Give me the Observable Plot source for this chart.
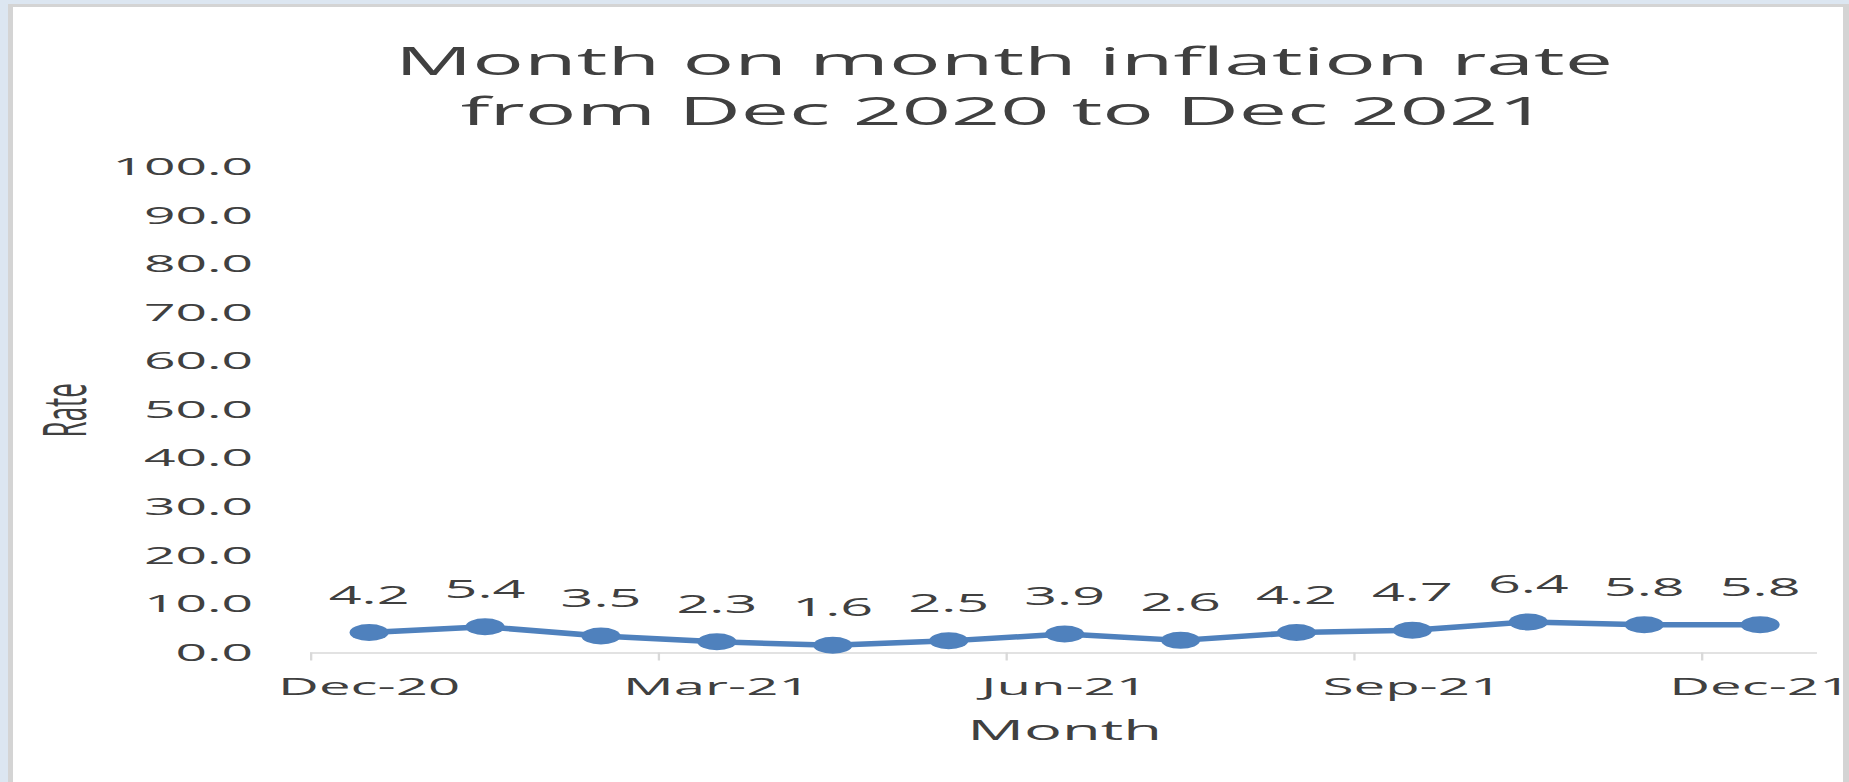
<!DOCTYPE html>
<html>
<head>
<meta charset="utf-8">
<script src="https://cdn.jsdelivr.net/npm/d3@7"></script>
<script src="https://cdn.jsdelivr.net/npm/@observablehq/plot@0.6"></script>
<style>
  html, body { margin: 0; padding: 0; }
  body { width: 1849px; height: 782px; background: #dce6f1; position: relative; overflow: hidden; font-family: "Open Sans", sans-serif; }
  #frame { position: absolute; left: 8px; top: 4px; width: 1841px; height: 778px; background: #d4d4d4; }
  #inner { position: absolute; left: 13px; top: 7px; width: 1830px; height: 775px; background: #ffffff; }
  #chart { position: absolute; left: 0; top: 0; height: 782px; transform-origin: 0 0; }
  #title { position: absolute; left: 0; text-align: center; color: #404040; font-family: "Open Sans", sans-serif; white-space: nowrap; }
  #plot { position: absolute; left: 0; }
</style>
</head>
<body>
<div id="frame"></div>
<div id="inner"></div>
<div id="chart">
  <div id="title">Month on month inflation rate<br>from Dec 2020 to Dec 2021</div>
  <div id="plot"></div>
</div>
<script>
// ---- data ----
const months = ["Dec-20","Jan-21","Feb-21","Mar-21","Apr-21","May-21","Jun-21","Jul-21","Aug-21","Sep-21","Oct-21","Nov-21","Dec-21"];
const rates = [4.2, 5.4, 3.5, 2.3, 1.6, 2.5, 3.9, 2.6, 4.2, 4.7, 6.4, 5.8, 5.8];
const yTicks = [0, 10, 20, 30, 40, 50, 60, 70, 80, 90, 100];
const labelIndex = [0, 3, 6, 9, 12];
const tickBoundaries = [-0.5, 2.5, 5.5, 8.5, 11.5];

const data = months.map((m, i) => ({i, month: m, rate: rates[i]}));

// ---- layout (the source image is horizontally stretched) ----
const S = 2.3;                // horizontal stretch factor
const W = 1849 / S;           // virtual width
const svgTop = 140;
const H = 782 - svgTop;

const chart = document.getElementById("chart");
chart.style.width = W + "px";
chart.style.transform = `scaleX(${S})`;

const title = document.getElementById("title");
title.style.width = (2 * 1004 / S) + "px";
title.style.top = "36px";
title.style.fontSize = "37.4px";
title.style.lineHeight = "50px";

const blue = "#4f81bd";
const textCol = "#404040";

const plot = Plot.plot({
  width: W,
  height: H,
  marginLeft: 310 / S,
  marginRight: (1849 - 1817) / S,
  marginTop: 167 - svgTop,
  marginBottom: 782 - 652.5,
  style: {fontFamily: "Open Sans", background: "transparent", overflow: "visible"},
  x: {type: "linear", domain: [-0.5, 12.5]},
  y: {domain: [0, 100]},
  marks: [
    Plot.axisY({ticks: yTicks, tickFormat: d => d.toFixed(1), tickSize: 0, tickPadding: (310 - 252) / S, fontSize: 24, fill: textCol, label: null, style: {letterSpacing: "1.6px"}}),
    Plot.ruleY([0], {stroke: "#d9d9d9", strokeWidth: 1.6}),
    Plot.axisX({ticks: tickBoundaries, tickSize: 8, tickFormat: () => "", stroke: "#d9d9d9", strokeWidth: 1, label: null}),
    Plot.axisX({ticks: labelIndex, tickFormat: i => months[i], tickSize: 0, tickPadding: 25, fontSize: 24.5, fill: textCol, label: null, style: {letterSpacing: "0.6px"}}),
    Plot.text(["Rate"], {frameAnchor: "left", rotate: -90, dx: (65.5 - 310) / S, fontSize: 26, fill: textCol, textAnchor: "middle", lineAnchor: "middle"}),
    Plot.text(["Month"], {frameAnchor: "bottom", dy: 78, fontSize: 27.5, fill: textCol, textAnchor: "middle", lineAnchor: "middle"}),
    Plot.line(data, {x: "i", y: "rate", stroke: blue, strokeWidth: 5.5}),
    Plot.dot(data, {x: "i", y: "rate", r: 8.5, fill: blue, stroke: "none"}),
    Plot.text(data, {x: "i", y: "rate", text: d => d.rate.toFixed(1), dy: -37, fontSize: 25, fill: textCol, textAnchor: "middle", lineAnchor: "middle", style: {letterSpacing: "0.8px"}})
  ]
});
plot.querySelectorAll("text").forEach(t => { if (t.textContent === "") t.remove(); });
const holder = document.getElementById("plot");
holder.style.top = svgTop + "px";
holder.appendChild(plot);
</script>
</body>
</html>
